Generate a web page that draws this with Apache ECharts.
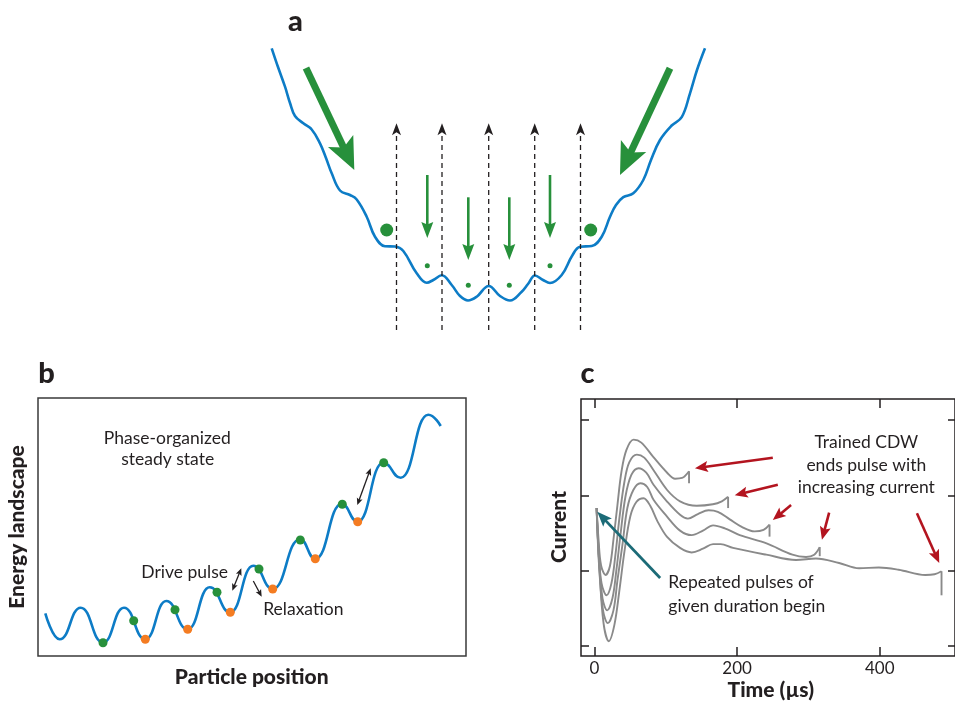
<!DOCTYPE html>
<html><head><meta charset="utf-8">
<script src="https://cdn.jsdelivr.net/npm/echarts@6/dist/echarts.min.js"></script>
<style>html,body{margin:0;padding:0;background:#fff}#chart{width:955px;height:702px}</style>
</head><body><div id="chart"></div>
<script>
// ---------- Panel a: potential well (position a.u., energy a.u.) ----------
const wellCurve = [[11.7,291.7],[18,273],[25,253.3],[30,237],[35,224],[43.3,216.7],[51.7,210.5],[60,196.7],[66,182],[71.7,166.7],[80,149.5],[90,145],[96.7,140.5],[106.7,123.3],[115,103.3],[125,93.8],[135,93.5],[143.3,89],[156.7,66.7],[166.7,57.3],[173.3,60],[181.7,64.7],[191.7,55],[200,44],[208,39.5],[216.7,43.3],[228.7,54],[240,44],[250,39.5],[261.7,48.3],[268,56],[275,64.5],[283,60],[290,57],[301.7,65],[312,84],[320,93.3],[331.7,94],[341.7,103.3],[350,123.3],[356,135],[363.3,142.8],[373.3,146.7],[383.3,160],[391,180],[400,200],[411.7,214.5],[421.7,222.8],[430,246.7],[437,270],[445,291.7]];
const wellDashedArrows = [[136.5,10,136.5,216.7],[182,10,182,216.7],[228.7,10,228.7,216.7],[274.7,10,274.7,216.7],[320.5,10,320.5,216.7]];
const wellSmallArrows = [[167.3,165,167.3,102],[208.3,142.7,208.3,80],[249.3,142.7,249.3,80],[290,165,290,102]];
const wellBigArrows = [[46,272,94.3,170],[410,271.7,360,165]];
const wellSmallDots = [[167.3,74.3],[208.3,54.7],[249.3,54.7],[290,74.3]];
const wellBigDots = [[126.7,110],[330.7,110]];

// ---------- Panel b: energy landscape (particle position a.u., energy a.u.) ----------
const landscape = [[7.3,42.7],[21.7,16.7],[42.7,48.3],[65,13.3],[86,48.3],[107.3,16.7],[128.3,55],[149.7,26.7],[171.7,68.7],[192.3,43.7],[215.3,90.3],[234.7,67],[262,116.7],[277.3,97.3],[303.7,152],[319.7,134.3],[345.3,193.3],[362.7,178.3],[390.3,241.3],[402.7,230]];
const landscapeGreen = [[65,13.3],[95.7,35.3],[137,46.3],[179,63.7],[221,87],[262.3,116],[304.3,151.7],[345.7,193.3]];
const landscapeOrange = [[107.3,16.7],[149.7,26.7],[192.3,43.7],[234.7,67],[277.3,97.3],[319.7,134.3]];
const landscapeDoubleArrows = [[194.3,65.3,203.3,87.7],[319.3,151,332.7,187.7]];
const landscapeRelaxArrow = [[215.3,75,223.7,59.3]];

// ---------- Panel c: current vs time ----------
const timeTicks = [0,200,400];
const currentTicks = [0,1,2,3];
const pulse1 = [[3,1.83],[5.7,1.41],[9.2,1.07],[15.5,0.94],[21.7,1.06],[26.6,1.41],[32.2,1.87],[37.8,2.31],[44.7,2.60],[54.9,2.74],[65.7,2.70],[82.4,2.51],[101.9,2.30],[113.1,2.22],[122.8,2.23],[132.6,2.32]];
const pulse2 = [[3,1.83],[5.7,1.27],[9.9,0.83],[16.9,0.67],[23.8,0.83],[29.4,1.21],[35.0,1.70],[42.0,2.18],[48.9,2.44],[59.4,2.54],[69.8,2.50],[82.4,2.34],[101.9,2.07],[120.0,1.92],[143.3,1.86],[166.0,1.88],[178.6,1.92],[187.4,1.98]];
const pulse3 = [[3,1.83],[6.4,1.14],[11.3,0.63],[17.8,0.47],[25.2,0.63],[30.8,1.01],[36.4,1.47],[43.4,1.98],[51.7,2.27],[61.9,2.36],[72.6,2.30],[82.8,2.14],[101.5,1.92],[120.0,1.74],[131.0,1.69],[145.0,1.75],[160.0,1.80],[173.0,1.78],[189.7,1.68],[206.5,1.58],[224.6,1.52],[237.1,1.54],[245.5,1.61]];
const pulse4 = [[3,1.83],[6.4,1.07],[12.0,0.47],[18.7,0.30],[26.6,0.47],[32.2,0.87],[39.2,1.34],[46.1,1.83],[54.5,2.07],[64.3,2.16],[74.0,2.11],[82.8,1.94],[101.5,1.72],[120.0,1.53],[136.3,1.47],[152.1,1.53],[166.3,1.60],[182.8,1.56],[203.7,1.47],[241.3,1.36],[277.6,1.21],[296.7,1.18],[308.2,1.21],[315.9,1.31]];
const pulse5 = [[3,1.83],[7.1,1.01],[12.7,0.30],[20.1,0.06],[28.0,0.28],[35.0,0.74],[42.0,1.25],[50.3,1.72],[58.7,1.91],[68.9,1.96],[78.2,1.86],[88.0,1.66],[101.5,1.45],[120.0,1.30],[136.3,1.24],[152.1,1.29],[166.3,1.35],[177.0,1.35],[194.3,1.30],[240.9,1.21],[282.7,1.14],[310.6,1.16],[343.1,1.10],[371.0,1.03],[398.8,1.04],[426.7,1.01],[463.9,0.94],[476.9,0.95],[486.7,0.99]];
const pulses = [pulse1, pulse2, pulse3, pulse4, pulse5];
const pulseEndDrop = [2.16, 1.83, 1.45, 1.19, 0.67];
const redArrows = [[250.1,2.50,140.9,2.36],[257.1,2.14,196.7,2.00],[275.7,1.87,250.1,1.67],[329.1,1.77,319.0,1.41],[452.2,1.76,483.5,1.10]];
const tealArrows = [[92.1,0.90,3.9,1.78]];

// ---------- styling ----------
const BLUE = '#0d7cc6', GREEN = '#27903b', ORANGE = '#f47c22', RED = '#b3141f', TEAL = '#1c6b77', GRAY = '#8a8a8a', INK = '#231f20';
const FONT = 'Lato';

function arrowRenderer(o) {
  return function (params, api) {
    const p1 = api.coord([api.value(0), api.value(1)]);
    const p2 = api.coord([api.value(2), api.value(3)]);
    const dx = p2[0] - p1[0], dy = p2[1] - p1[1];
    const len = Math.hypot(dx, dy) || 1;
    const ux = dx / len, uy = dy / len, px = -uy, py = ux;
    const children = [];
    function head(tip, dxu, dyu) {
      const bx = tip[0] - dxu * o.headLen, by = tip[1] - dyu * o.headLen;
      const nx = tip[0] - dxu * o.headLen * (1 - o.notch), ny = tip[1] - dyu * o.headLen * (1 - o.notch);
      return { type: 'polygon', shape: { points: [tip, [bx + px * o.headW / 2, by + py * o.headW / 2], [nx, ny], [bx - px * o.headW / 2, by - py * o.headW / 2]] }, style: { fill: o.color } };
    }
    const back = o.headLen * (1 - o.notch) * 0.9;
    const e = o.headLen ? [p2[0] - ux * back, p2[1] - uy * back] : p2;
    const s = (o.both && o.headLen) ? [p1[0] + ux * back, p1[1] + uy * back] : p1;
    children.push({ type: 'line', shape: { x1: s[0], y1: s[1], x2: e[0], y2: e[1] }, style: { stroke: o.color, lineWidth: o.width, lineDash: o.dash || null } });
    if (o.headLen) {
      children.push(head(p2, ux, uy));
      if (o.both) children.push(head(p1, -ux, -uy));
    }
    return { type: 'group', children: children };
  };
}
function arrowSeries(grid, data, o) {
  return { type: 'custom', coordinateSystem: 'cartesian2d', xAxisIndex: grid, yAxisIndex: grid, data: data, encode: { x: [0, 2], y: [1, 3] }, renderItem: arrowRenderer(o), silent: true, z: o.z || 5 };
}

const dropSegments = pulses.map((p, i) => [p[p.length - 1][0], p[p.length - 1][1], p[p.length - 1][0], pulseEndDrop[i]]);

function txt(text, x, y, size, opts) {
  opts = opts || {};
  return { type: 'text', x: x, y: y, rotation: opts.rot || 0, z: 100,
    style: { text: text, fill: INK, fontFamily: FONT, fontSize: size, fontWeight: opts.weight || 'normal', align: opts.align || 'center', verticalAlign: 'middle' } };
}

const hiddenAxis = (grid, min, max) => ({ gridIndex: grid, type: 'value', min: min, max: max, show: false });
const tickStyle = { color: INK, width: 1.5 };
const noLine = { show: false, onZero: false };

const option = {
  animation: false,
  backgroundColor: '#ffffff',
  grid: [
    { left: 260, top: 0, width: 460, height: 340 },
    { left: 38, top: 398, width: 428, height: 258, show: true, borderColor: '#3a3a3a', borderWidth: 1.5 },
    { left: 581, top: 399, width: 375, height: 257, show: true, borderColor: INK, borderWidth: 1.5 }
  ],
  xAxis: [
    hiddenAxis(0, 0, 460),
    hiddenAxis(1, 0, 428),
    { gridIndex: 2, type: 'value', min: -18.9, max: 505.6, position: 'bottom', axisLine: noLine, splitLine: { show: false },
      axisTick: { show: true, inside: true, length: 9, customValues: timeTicks, lineStyle: tickStyle },
      axisLabel: { customValues: timeTicks, color: INK, fontFamily: FONT, fontSize: 17, margin: 4 } },
    { gridIndex: 2, type: 'value', min: -18.9, max: 505.6, position: 'top', axisLine: noLine, splitLine: { show: false },
      axisTick: { show: true, inside: true, length: 9, customValues: timeTicks, lineStyle: tickStyle }, axisLabel: { show: false } }
  ],
  yAxis: [
    hiddenAxis(0, 0, 340),
    hiddenAxis(1, 0, 258),
    { gridIndex: 2, type: 'value', min: -0.137, max: 3.28, position: 'left', axisLine: noLine, splitLine: { show: false },
      axisTick: { show: true, inside: true, length: 8, customValues: currentTicks, lineStyle: tickStyle }, axisLabel: { show: false } },
    { gridIndex: 2, type: 'value', min: -0.137, max: 3.28, position: 'right', axisLine: noLine, splitLine: { show: false },
      axisTick: { show: true, inside: true, length: 7, customValues: currentTicks, lineStyle: tickStyle }, axisLabel: { show: false } }
  ],
  series: [
    // panel a
    { type: 'line', xAxisIndex: 0, yAxisIndex: 0, data: wellCurve, smooth: 0.4, showSymbol: false, symbol: 'none', lineStyle: { color: BLUE, width: 2.6 }, z: 3 },
    arrowSeries(0, wellDashedArrows, { color: INK, width: 1.3, headLen: 12, headW: 9, notch: 0.25, dash: [5, 4], z: 4 }),
    arrowSeries(0, wellSmallArrows, { color: GREEN, width: 2.6, headLen: 16, headW: 12, notch: 0.15, z: 6 }),
    arrowSeries(0, wellBigArrows, { color: GREEN, width: 7, headLen: 32, headW: 28, notch: 0.22, z: 6 }),
    { type: 'scatter', xAxisIndex: 0, yAxisIndex: 0, data: wellSmallDots, symbolSize: 5, itemStyle: { color: GREEN, opacity: 1 }, z: 7 },
    { type: 'scatter', xAxisIndex: 0, yAxisIndex: 0, data: wellBigDots, symbolSize: 13, itemStyle: { color: GREEN, opacity: 1 }, z: 7 },
    // panel b
    { type: 'line', xAxisIndex: 1, yAxisIndex: 1, data: landscape, smooth: 0.5, smoothMonotone: 'x', showSymbol: false, symbol: 'none', lineStyle: { color: BLUE, width: 2.6 }, z: 3 },
    { type: 'scatter', xAxisIndex: 1, yAxisIndex: 1, data: landscapeGreen, symbolSize: 9, itemStyle: { color: GREEN, opacity: 1 }, z: 7 },
    { type: 'scatter', xAxisIndex: 1, yAxisIndex: 1, data: landscapeOrange, symbolSize: 9, itemStyle: { color: ORANGE, opacity: 1 }, z: 7 },
    arrowSeries(1, landscapeDoubleArrows, { color: INK, width: 1.3, headLen: 7, headW: 6, notch: 0.2, both: true }),
    arrowSeries(1, landscapeRelaxArrow, { color: INK, width: 1.3, headLen: 7, headW: 6, notch: 0.2 }),
    // panel c
    ...pulses.map(p => ({ type: 'line', xAxisIndex: 2, yAxisIndex: 2, data: p, smooth: 0.35, showSymbol: false, symbol: 'none', lineStyle: { color: GRAY, width: 1.9 }, z: 3 })),
    arrowSeries(2, dropSegments, { color: GRAY, width: 1.9, headLen: 0, headW: 0, notch: 0, z: 3 }),
    arrowSeries(2, redArrows, { color: RED, width: 2.6, headLen: 13, headW: 11, notch: 0.2, z: 6 }),
    arrowSeries(2, tealArrows, { color: TEAL, width: 2.8, headLen: 15, headW: 12, notch: 0.2, z: 6 })
  ],
  graphic: [
    txt('a', 295.5, 22, 29, { weight: 900 }),
    txt('b', 46.5, 374, 29, { weight: 900 }),
    txt('c', 587.5, 374, 29, { weight: 900 }),
    txt('Phase-organized', 167.3, 438, 17.5),
    txt('steady state', 167.7, 459.5, 17.5),
    txt('Drive pulse', 184.7, 572, 17.5),
    txt('Relaxation', 303.3, 609, 17.5),
    txt('Energy landscape', 17, 527, 21, { weight: 900, rot: Math.PI / 2 }),
    txt('Particle position', 251.7, 677, 21, { weight: 900 }),
    txt('Current', 559.5, 527, 21, { weight: 900, rot: Math.PI / 2 }),
    txt('Time (µs)', 770.8, 690, 21, { weight: 900 }),
    txt('Trained CDW', 866.3, 442, 17.5),
    txt('ends pulse with', 866.3, 465.5, 17.5),
    txt('increasing current', 866.3, 487.5, 17.5),
    txt('Repeated pulses of', 668.3, 582.5, 17.5, { align: 'left' }),
    txt('given duration begin', 668.3, 606.5, 17.5, { align: 'left' })
  ]
};
const chart = echarts.init(document.getElementById('chart'), null, { renderer: 'canvas' });
chart.setOption(option);
</script>
</body></html>
